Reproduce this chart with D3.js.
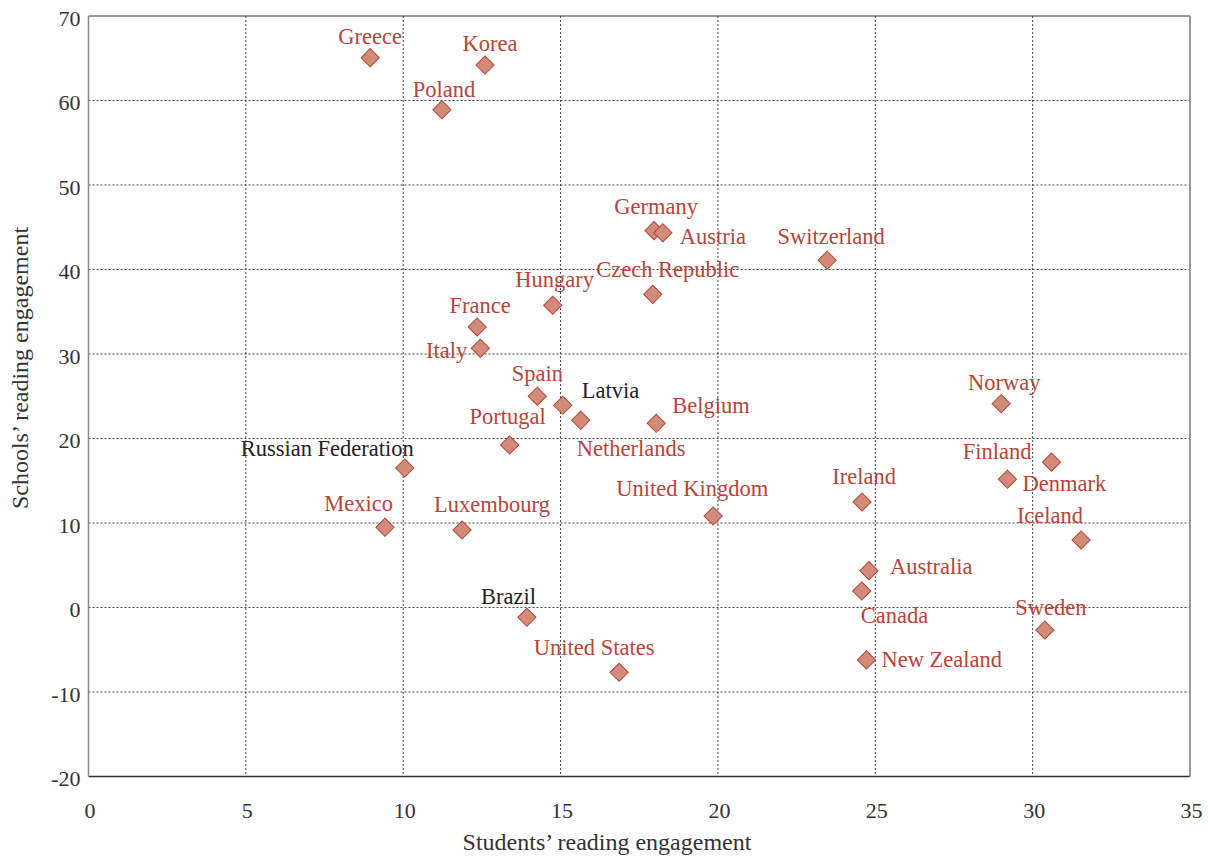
<!DOCTYPE html>
<html><head><meta charset="utf-8">
<script src="https://cdn.jsdelivr.net/npm/d3@7"></script>
<style>body{margin:0;background:#fff}svg{display:block}</style>
</head><body><svg id="c" width="1209" height="857"></svg>
<script>
const countries = ["Greece","Korea","Poland","Germany","Austria","Switzerland","Czech Republic","Hungary","France","Italy","Spain","Latvia","Netherlands","Belgium","Portugal","Russian Federation","Mexico","Luxembourg","United Kingdom","Brazil","United States","Norway","Finland","Denmark","Ireland","Iceland","Australia","Canada","Sweden","New Zealand"];
const studentsEngagement = [8.95,12.6,11.23,17.97,18.25,23.47,17.93,14.75,12.35,12.45,14.26,15.07,15.64,18.04,13.38,10.05,9.42,11.87,19.85,13.93,16.86,29.0,30.6,29.2,24.58,31.54,24.8,24.57,30.39,24.72];
const schoolsEngagement = [65.07,64.2,58.9,44.6,44.35,41.1,37.06,35.76,33.2,30.67,25.0,23.93,22.15,21.8,19.23,16.5,9.49,9.17,10.83,-1.16,-7.67,24.12,17.2,15.17,12.49,7.99,4.36,1.95,-2.66,-6.2];
const xTicks = [0,5,10,15,20,25,30,35];
const yTicks = [-20,-10,0,10,20,30,40,50,60,70];
const partnerCountries = ["Latvia","Russian Federation","Brazil"];
const xTitle = "Students\u2019 reading engagement";
const yTitle = "Schools\u2019 reading engagement";

// label placement: [anchor, dx, dy] relative to marker
const labelLayout = {
 "Greece":["middle",0,-14],"Korea":["middle",5,-14],"Poland":["middle",2,-13],
 "Germany":["middle",2,-17],"Austria":["start",17,11],"Switzerland":["middle",4,-16],
 "Czech Republic":["middle",15,-17],"Hungary":["middle",2,-18],"France":["middle",3,-14],
 "Italy":["end",-13,10],"Spain":["middle",0,-15],"Latvia":["start",19,-7],
 "Netherlands":["start",-4,36],"Belgium":["start",16,-10],"Portugal":["middle",-2,-21],
 "Russian Federation":["end",9,-12],"Mexico":["end",8,-16],"Luxembourg":["start",-28,-18],
 "United Kingdom":["middle",-21,-20],"Brazil":["end",9,-13],"United States":["middle",-25,-17],
 "Norway":["middle",3,-14],"Finland":["end",-20,-3],"Denmark":["start",15,12],
 "Ireland":["middle",2,-18],"Iceland":["end",2,-17],"Australia":["start",21,3],
 "Canada":["start",-1,32],"Sweden":["middle",6,-15],"New Zealand":["start",15,7]
};

const m = {left:88.5, right:1190, top:16, bottom:776.5};
const svg = d3.select("#c");
const font = "'Liberation Serif','DejaVu Serif',serif";
const x = d3.scaleLinear().domain([0,35]).range([m.left,m.right]);
const y = d3.scaleLinear().domain([-20,70]).range([m.bottom,m.top]);

// grid
const g = svg.append("g");
g.selectAll(".vg").data(xTicks.filter(t=>t>0&&t<35)).join("line")
 .attr("x1",d=>x(d)).attr("x2",d=>x(d)).attr("y1",m.top).attr("y2",m.bottom)
 .attr("stroke","#444").attr("stroke-width",1).attr("stroke-dasharray","2,2");
g.selectAll(".hg").data(yTicks.filter(t=>t>-20&&t<70)).join("line")
 .attr("y1",d=>y(d)).attr("y2",d=>y(d)).attr("x1",m.left).attr("x2",m.right)
 .attr("stroke","#444").attr("stroke-width",1).attr("stroke-dasharray","2,2");

// frame
svg.append("line").attr("x1",m.left).attr("x2",m.right).attr("y1",m.top).attr("y2",m.top).attr("stroke","#333").attr("stroke-width",1.2);
svg.append("line").attr("x1",m.left).attr("x2",m.right).attr("y1",m.bottom).attr("y2",m.bottom).attr("stroke","#333").attr("stroke-width",1.5);
svg.append("line").attr("x1",m.left).attr("x2",m.left).attr("y1",m.top).attr("y2",m.bottom).attr("stroke","#888").attr("stroke-width",1.5);
svg.append("line").attr("x1",m.right).attr("x2",m.right).attr("y1",m.top).attr("y2",m.bottom).attr("stroke","#999").attr("stroke-width",2);

// axes (labels only)
const xa = svg.append("g").attr("transform",`translate(0,${m.bottom})`)
 .call(d3.axisBottom(x).tickValues(xTicks).tickFormat(d=>String(d)).tickSize(0).tickPadding(0));
xa.select(".domain").remove();
xa.selectAll("text").attr("dy",null).attr("y",41).attr("x",1).attr("font-family",font).attr("font-size",22).attr("fill","#333");
const ya = svg.append("g").attr("transform",`translate(${m.left},0)`)
 .call(d3.axisLeft(y).tickValues(yTicks).tickFormat(d=>String(d)).tickSize(0).tickPadding(0));
ya.select(".domain").remove();
ya.selectAll("text").attr("x",-8).attr("dy","0.42em").attr("font-family",font).attr("font-size",22).attr("fill","#333");

svg.append("text").attr("x",607).attr("y",850).attr("text-anchor","middle")
 .attr("font-family",font).attr("font-size",24).attr("fill","#333").text(xTitle);
svg.append("text").attr("transform","translate(28,368) rotate(-90)").attr("text-anchor","middle")
 .attr("font-family",font).attr("font-size",24).attr("fill","#333").text(yTitle);

// points
const data = countries.map((c,i)=>({c, xv:studentsEngagement[i], yv:schoolsEngagement[i]}));
const sym = d3.symbol(d3.symbolSquare).size(165);
svg.append("g").selectAll("path").data(data).join("path")
 .attr("d",sym)
 .attr("transform",d=>`translate(${x(d.xv)},${y(d.yv)}) rotate(45)`)
 .attr("fill","#d38b79").attr("stroke","#b5453a").attr("stroke-width",1);

svg.append("g").selectAll("text").data(data).join("text")
 .attr("x",d=>x(d.xv)+labelLayout[d.c][1])
 .attr("y",d=>y(d.yv)+labelLayout[d.c][2])
 .attr("text-anchor",d=>labelLayout[d.c][0])
 .attr("font-family",font).attr("font-size",22.5)
 .attr("fill",d=>partnerCountries.includes(d.c)?"#222":"#b8443a")
 .text(d=>d.c);
</script></body></html>
